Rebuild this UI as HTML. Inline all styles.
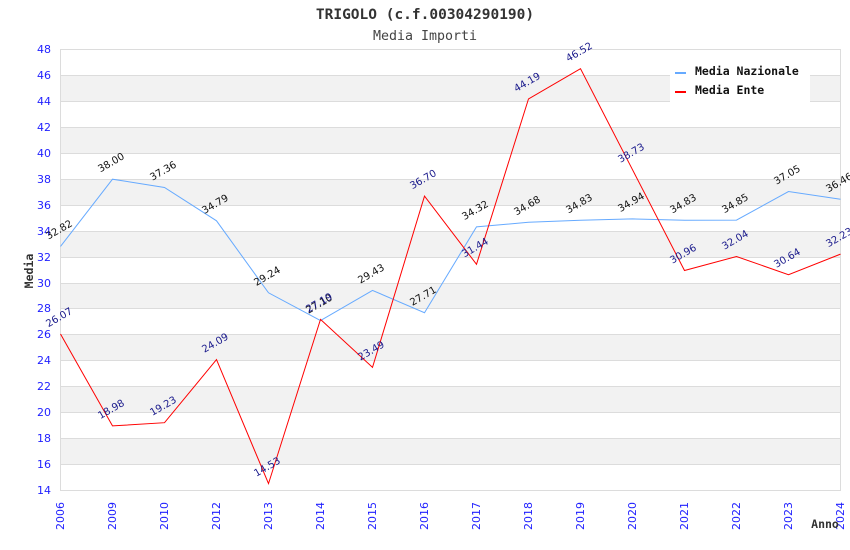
<!DOCTYPE html>
<html><head><meta charset="utf-8"><style>
html,body{margin:0;padding:0;background:#fff;}
svg{display:block;}
.t{font-family:"DejaVu Sans","Liberation Sans",sans-serif;}
.m{font-family:"DejaVu Sans Mono","Liberation Mono",monospace;}
</style></head><body>
<svg width="850" height="550" viewBox="0 0 850 550" xmlns="http://www.w3.org/2000/svg">
<rect width="850" height="550" fill="#fff"/>
<text class="m" x="425" y="19" text-anchor="middle" font-size="14.5" font-weight="bold" fill="#333">TRIGOLO (c.f.00304290190)</text>
<text class="m" x="425" y="40" text-anchor="middle" font-size="13.3" fill="#444">Media Importi</text>
<g fill="#f2f2f2">
<rect x="61" y="75.5" width="779" height="26"/>
<rect x="61" y="127.5" width="779" height="26"/>
<rect x="61" y="179.5" width="779" height="26"/>
<rect x="61" y="231.5" width="779" height="26"/>
<rect x="61" y="283.5" width="779" height="25"/>
<rect x="61" y="334.5" width="779" height="26"/>
<rect x="61" y="386.5" width="779" height="26"/>
<rect x="61" y="438.5" width="779" height="26"/>
</g>
<g stroke="#dcdcdc" stroke-width="1">
<line x1="60" x2="840" y1="49.5" y2="49.5"/>
<line x1="60" x2="840" y1="75.5" y2="75.5"/>
<line x1="60" x2="840" y1="101.5" y2="101.5"/>
<line x1="60" x2="840" y1="127.5" y2="127.5"/>
<line x1="60" x2="840" y1="153.5" y2="153.5"/>
<line x1="60" x2="840" y1="179.5" y2="179.5"/>
<line x1="60" x2="840" y1="205.5" y2="205.5"/>
<line x1="60" x2="840" y1="231.5" y2="231.5"/>
<line x1="60" x2="840" y1="257.5" y2="257.5"/>
<line x1="60" x2="840" y1="283.5" y2="283.5"/>
<line x1="60" x2="840" y1="308.5" y2="308.5"/>
<line x1="60" x2="840" y1="334.5" y2="334.5"/>
<line x1="60" x2="840" y1="360.5" y2="360.5"/>
<line x1="60" x2="840" y1="386.5" y2="386.5"/>
<line x1="60" x2="840" y1="412.5" y2="412.5"/>
<line x1="60" x2="840" y1="438.5" y2="438.5"/>
<line x1="60" x2="840" y1="464.5" y2="464.5"/>
<line x1="60" x2="840" y1="490.5" y2="490.5"/>
<line x1="60.5" x2="60.5" y1="49" y2="491"/>
<line x1="840.5" x2="840.5" y1="49" y2="491"/>
</g>
<g class="t" font-size="11" fill="#1f1fff" text-anchor="end" dominant-baseline="central">
<text x="51" y="49.5">48</text><text x="51" y="75.5">46</text><text x="51" y="101.5">44</text>
<text x="51" y="127.5">42</text><text x="51" y="153.5">40</text><text x="51" y="179.5">38</text>
<text x="51" y="205.5">36</text><text x="51" y="231.5">34</text><text x="51" y="257.5">32</text>
<text x="51" y="283.5">30</text><text x="51" y="308.5">28</text><text x="51" y="334.5">26</text>
<text x="51" y="360.5">24</text><text x="51" y="386.5">22</text><text x="51" y="412.5">20</text>
<text x="51" y="438.5">18</text><text x="51" y="464.5">16</text><text x="51" y="490.5">14</text>
</g>
<g class="t" font-size="11" fill="#1f1fff" text-anchor="end" dominant-baseline="central">
<text transform="translate(60.5,502) rotate(-90)">2006</text>
<text transform="translate(112.5,502) rotate(-90)">2009</text>
<text transform="translate(164.5,502) rotate(-90)">2010</text>
<text transform="translate(216.5,502) rotate(-90)">2012</text>
<text transform="translate(268.5,502) rotate(-90)">2013</text>
<text transform="translate(320.5,502) rotate(-90)">2014</text>
<text transform="translate(372.5,502) rotate(-90)">2015</text>
<text transform="translate(424.5,502) rotate(-90)">2016</text>
<text transform="translate(476.5,502) rotate(-90)">2017</text>
<text transform="translate(528.5,502) rotate(-90)">2018</text>
<text transform="translate(580.5,502) rotate(-90)">2019</text>
<text transform="translate(632.5,502) rotate(-90)">2020</text>
<text transform="translate(684.5,502) rotate(-90)">2021</text>
<text transform="translate(736.5,502) rotate(-90)">2022</text>
<text transform="translate(788.5,502) rotate(-90)">2023</text>
<text transform="translate(840.5,502) rotate(-90)">2024</text>
</g>
<text class="m" transform="translate(29,271) rotate(-90)" text-anchor="middle" dominant-baseline="central" font-size="11.5" font-weight="bold" fill="#333">Media</text>
<text class="m" x="825" y="524" text-anchor="middle" dominant-baseline="central" font-size="11.5" font-weight="bold" fill="#333">Anno</text>
<polyline fill="none" stroke="#66aaff" stroke-width="1" points="60.5,246.4 112.5,179.2 164.5,187.5 216.5,220.8 268.5,292.8 320.5,320.6 372.5,290.4 424.5,312.7 476.5,226.9 528.5,222.3 580.5,220.3 632.5,218.9 684.5,220.3 736.5,220.1 788.5,191.5 840.5,199.2"/>
<polyline fill="none" stroke="#ff0000" stroke-width="1" points="60.5,334.0 112.5,425.9 164.5,422.7 216.5,359.6 268.5,483.6 320.5,319.4 372.5,367.4 424.5,196.1 476.5,264.3 528.5,98.9 580.5,68.7 632.5,169.7 684.5,270.5 736.5,256.5 788.5,274.7 840.5,254.1"/>
<g class="t" font-size="10" fill="#111" text-anchor="middle" dominant-baseline="central">
<text transform="translate(59.5,230.4) rotate(-30)">32.82</text>
<text transform="translate(111.5,163.2) rotate(-30)">38.00</text>
<text transform="translate(163.5,171.5) rotate(-30)">37.36</text>
<text transform="translate(215.5,204.8) rotate(-30)">34.79</text>
<text transform="translate(267.5,276.8) rotate(-30)">29.24</text>
<text transform="translate(319.5,304.6) rotate(-30)">27.10</text>
<text transform="translate(371.5,274.4) rotate(-30)">29.43</text>
<text transform="translate(423.5,296.7) rotate(-30)">27.71</text>
<text transform="translate(475.5,210.9) rotate(-30)">34.32</text>
<text transform="translate(527.5,206.3) rotate(-30)">34.68</text>
<text transform="translate(579.5,204.3) rotate(-30)">34.83</text>
<text transform="translate(631.5,202.9) rotate(-30)">34.94</text>
<text transform="translate(683.5,204.3) rotate(-30)">34.83</text>
<text transform="translate(735.5,204.1) rotate(-30)">34.85</text>
<text transform="translate(787.5,175.5) rotate(-30)">37.05</text>
<text transform="translate(839.5,183.2) rotate(-30)">36.46</text>
</g>
<g class="t" font-size="10" fill="#1a1a8c" text-anchor="middle" dominant-baseline="central">
<text transform="translate(59.5,318.0) rotate(-30)">26.07</text>
<text transform="translate(111.5,409.9) rotate(-30)">18.98</text>
<text transform="translate(163.5,406.7) rotate(-30)">19.23</text>
<text transform="translate(215.5,343.6) rotate(-30)">24.09</text>
<text transform="translate(267.5,467.6) rotate(-30)">14.53</text>
<text transform="translate(319.5,303.4) rotate(-30)">27.19</text>
<text transform="translate(371.5,351.4) rotate(-30)">23.49</text>
<text transform="translate(423.5,180.1) rotate(-30)">36.70</text>
<text transform="translate(475.5,248.3) rotate(-30)">31.44</text>
<text transform="translate(527.5,82.9) rotate(-30)">44.19</text>
<text transform="translate(579.5,52.7) rotate(-30)">46.52</text>
<text transform="translate(631.5,153.7) rotate(-30)">38.73</text>
<text transform="translate(683.5,254.5) rotate(-30)">30.96</text>
<text transform="translate(735.5,240.5) rotate(-30)">32.04</text>
<text transform="translate(787.5,258.7) rotate(-30)">30.64</text>
<text transform="translate(839.5,238.1) rotate(-30)">32.23</text>
</g>
<rect x="670" y="60" width="140" height="42" fill="#fff"/>
<line x1="675" x2="686" y1="73" y2="73" stroke="#66aaff" stroke-width="2"/>
<line x1="675" x2="686" y1="92" y2="92" stroke="#ff0000" stroke-width="2"/>
<g class="m" font-size="11.5" font-weight="bold" fill="#111" dominant-baseline="central">
<text x="695" y="71">Media Nazionale</text>
<text x="695" y="90">Media Ente</text>
</g>
</svg>
</body></html>
